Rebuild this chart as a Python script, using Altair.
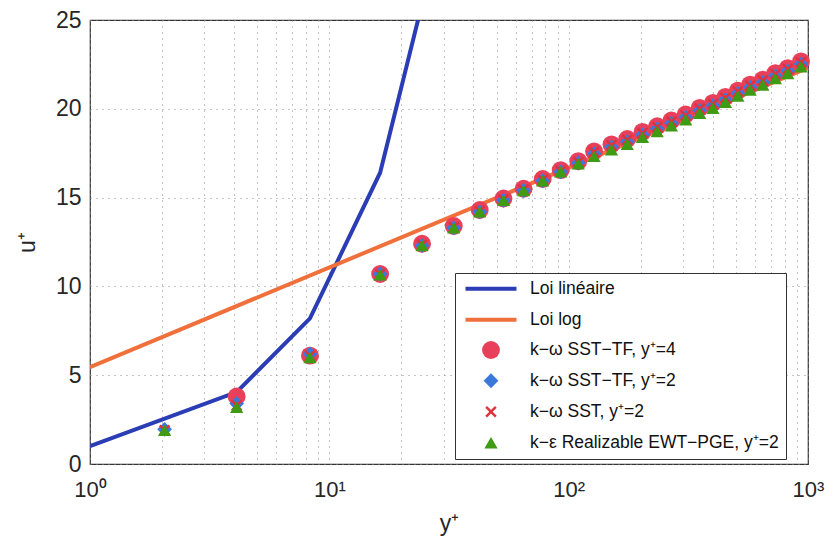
import altair as alt
import pandas as pd

LIN = "Loi linéaire"
LOG = "Loi log"
S1 = "k−ω SST−TF, y⁺=4"
S2 = "k−ω SST−TF, y⁺=2"
S3 = "k−ω SST, y⁺=2"
S4 = "k−ε Realizable EWT−PGE, y⁺=2"

lin_x = [1.0, 4.1, 8.3, 16.3, 33.1]
lin_u = [1.0, 4.05, 8.2, 16.4, 33.1]
log_x = [1.0, 1000.0]
log_u = [5.45, 22.3]

x_y4 = [4.1, 8.3, 16.3, 24.4, 33.1, 42.5, 53.4, 64.8, 77.9, 92.6, 109.7, 127.7,
        151, 175.7, 203.4, 234.3, 268.7, 308.2, 352.6, 400.6, 451.9, 509.3,
        573.2, 647.6, 730.6, 822.9, 935]
x_y2 = [2.05, 4.1, 8.3, 16.3, 24.4, 33.1, 42.5, 53.4, 64.8, 77.9, 92.6, 109.7,
        127.7, 151, 175.7, 203.4, 234.3, 268.7, 308.2, 352.6, 400.6, 451.9,
        509.3, 573.2, 647.6, 730.6, 822.9, 935]

u_sst_tf_4 = [3.8, 6.1, 10.7, 12.4, 13.4, 14.3, 14.95, 15.5, 16.05, 16.55, 17.05,
              17.6, 18.0, 18.3, 18.7, 19.02, 19.34, 19.68, 20.05, 20.33, 20.67,
              21.02, 21.36, 21.64, 22.01, 22.29, 22.67]
u_sst_tf_2 = [1.95, 3.4, 6.2, 10.7, 12.3, 13.3, 14.2, 14.85, 15.4, 15.95, 16.45,
              16.95, 17.47, 17.85, 18.15, 18.54, 18.87, 19.19, 19.53, 19.9, 20.18,
              20.52, 20.87, 21.21, 21.49, 21.86, 22.14, 22.52]
u_sst_2 = [1.9, 3.3, 6.1, 10.7, 12.35, 13.35, 14.25, 14.9, 15.45, 16.0, 16.5,
           17.0, 17.57, 17.95, 18.25, 18.64, 18.97, 19.29, 19.63, 20.0, 20.28,
           20.62, 20.97, 21.31, 21.59, 21.96, 22.24, 22.62]
u_ke_2 = [1.9, 3.2, 6.0, 10.65, 12.3, 13.3, 14.2, 14.85, 15.4, 15.95, 16.45,
          16.9, 17.32, 17.7, 18.0, 18.39, 18.72, 19.04, 19.38, 19.75, 20.03,
          20.37, 20.72, 21.06, 21.34, 21.71, 21.99, 22.37]

series = [LIN, LOG, S1, S2, S3, S4]
colors = ["#2b3db4", "#f0703c", "#e8405a", "#3c78dc", "#e0323c", "#3f9a14"]

x_ticks = [1, 2, 3, 4, 5, 6, 7, 8, 9, 10, 20, 30, 40, 50, 60, 70, 80, 90,
           100, 200, 300, 400, 500, 600, 700, 800, 900, 1000]
y_ticks = [0, 5, 10, 15, 20, 25]

lin_df = pd.DataFrame({"yp": lin_x, "up": lin_u})
log_df = pd.DataFrame({"yp": log_x, "up": log_u})

pts = []
for name, xs, us in [(S1, x_y4, u_sst_tf_4), (S2, x_y2, u_sst_tf_2),
                     (S3, x_y2, u_sst_2), (S4, x_y2, u_ke_2)]:
    for xv, uv in zip(xs, us):
        pts.append({"yp": xv, "up": uv, "law": name})
pts_df = pd.DataFrame(pts)

FONT = "Liberation Sans"
TXT = "#262626"
W, H = 718, 444

line_path = "M-5.1,-0.4L5.1,-0.4L5.1,0.4L-5.1,0.4Z"
x_path = ("M-1,-0.7L-0.7,-1L0,-0.3L0.7,-1L1,-0.7L0.3,0L1,0.7L0.7,1L0,0.3"
          "L-0.7,1L-1,0.7L-0.3,0Z")
shapes = [line_path, line_path, "circle", "diamond", x_path, "triangle-up"]
sizes = [100, 100, 320, 220, 130, 175]

xscale = alt.Scale(type="log", domain=[1, 1000], nice=False)
yscale = alt.Scale(domain=[0, 25], nice=False, zero=False)

label_expr = ("datum.value == 1 ? '10⁰' : datum.value == 10 ? '10¹' : "
              "datum.value == 100 ? '10²' : datum.value == 1000 ? '10³' : ''")

x_axis = alt.Axis(values=x_ticks, grid=True, gridDash=[1, 5], gridColor="#8a8a8a",
                  ticks=False, domain=False, labelExpr=label_expr,
                  labelOverlap=False, labelFlush=False, labelFont=FONT,
                  labelFontSize=22, labelColor=TXT, labelPadding=15,
                  title="y⁺", titleFont=FONT, titleFontSize=23,
                  titleFontWeight="normal", titleColor=TXT, titlePadding=12)
y_axis = alt.Axis(values=y_ticks, grid=True, gridDash=[1, 5], gridColor="#8a8a8a",
                  ticks=False, domain=False, labelFont=FONT,
                  labelFontSize=23, labelColor=TXT, labelPadding=9,
                  title="u⁺", titleFont=FONT, titleFontSize=23,
                  titleFontWeight="normal", titleColor=TXT, titlePadding=16)

X = alt.X("yp:Q", scale=xscale, axis=x_axis)
Y = alt.Y("up:Q", scale=yscale, axis=y_axis)

lin_line = alt.Chart(lin_df).mark_line(strokeWidth=4, clip=True,
                                       color=colors[0]).encode(x=X, y=Y)
log_line = alt.Chart(log_df).mark_line(strokeWidth=4, clip=True,
                                       color=colors[1]).encode(x=X, y=Y)

legend = alt.Legend(title=None, orient="none", legendX=365, legendY=253,
                    labelFont=FONT, labelFontSize=17.5, labelColor="#111",
                    padding=7, fillColor="white", strokeColor="#333",
                    rowPadding=12, labelLimit=500, symbolOffset=20,
                    labelOffset=30, symbolStrokeWidth=0)

points = alt.Chart(pts_df).mark_point(filled=True, opacity=1, strokeWidth=0).encode(
    x=X, y=Y,
    color=alt.Color("law:N", scale=alt.Scale(domain=series, range=colors),
                    legend=legend),
    shape=alt.Shape("law:N", scale=alt.Scale(domain=series, range=shapes),
                    legend=legend),
    size=alt.Size("law:N",
                  scale=alt.Scale(type="ordinal", domain=series, range=sizes),
                  legend=legend),
)

chart = alt.layer(lin_line, log_line, points).properties(
    width=W, height=H,
    autosize=alt.AutoSizeParams(type="none"),
    padding={"left": 82, "top": 12, "right": 19, "bottom": 80},
    background="white",
).configure_view(stroke="#333", strokeWidth=1.2)

chart.save("out.html", embed_options={"renderer": "svg", "actions": False})
